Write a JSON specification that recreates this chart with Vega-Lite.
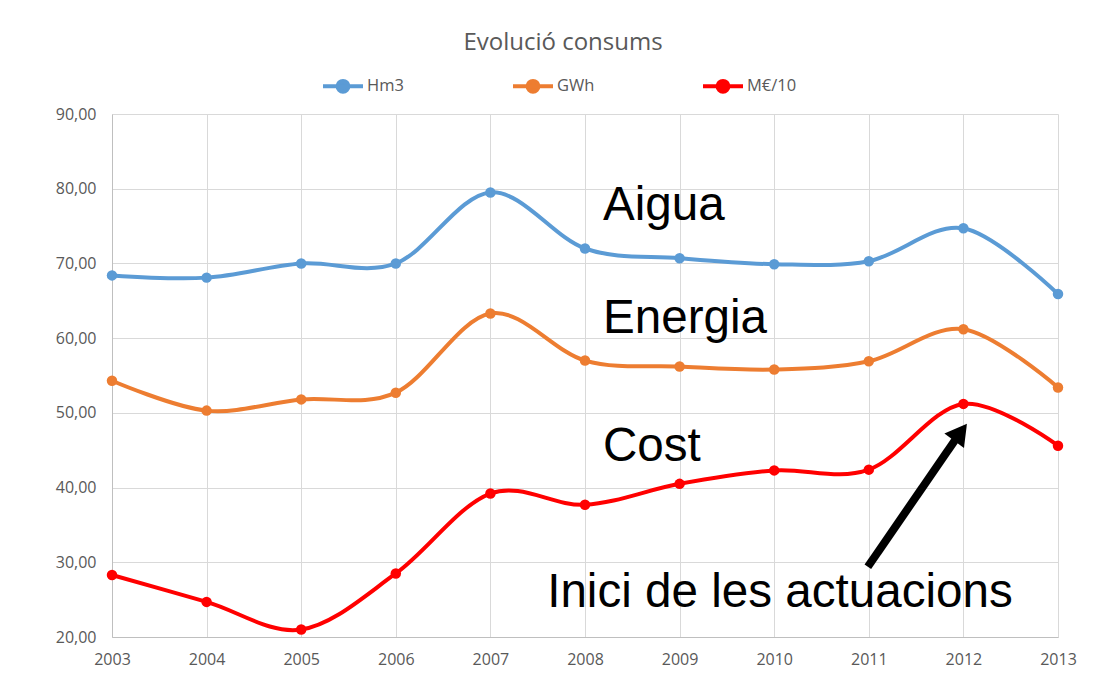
{
  "$schema": "https://vega.github.io/schema/vega-lite/v6.json",
  "width": 946,
  "height": 523,
  "autosize": {"type": "none"},
  "padding": {"left": 112, "top": 114, "right": 38, "bottom": 52},
  "background": "white",
  "title": {
    "text": "Evolució consums",
    "font": "Open Sans",
    "fontSize": 24,
    "fontWeight": "normal",
    "color": "#595959",
    "anchor": "middle",
    "dx": -22,
    "offset": 9
  },
  "config": {
    "view": {"stroke": null},
    "font": "Open Sans"
  },
  "datasets": {
    "series": [
      {"any": 2003, "serie": "Hm3", "valor": 68.4},
      {"any": 2004, "serie": "Hm3", "valor": 68.1},
      {"any": 2005, "serie": "Hm3", "valor": 70.0},
      {"any": 2006, "serie": "Hm3", "valor": 70.0},
      {"any": 2007, "serie": "Hm3", "valor": 79.5},
      {"any": 2008, "serie": "Hm3", "valor": 72.0},
      {"any": 2009, "serie": "Hm3", "valor": 70.7},
      {"any": 2010, "serie": "Hm3", "valor": 69.9},
      {"any": 2011, "serie": "Hm3", "valor": 70.3},
      {"any": 2012, "serie": "Hm3", "valor": 74.7},
      {"any": 2013, "serie": "Hm3", "valor": 65.9},
      {"any": 2003, "serie": "GWh", "valor": 54.3},
      {"any": 2004, "serie": "GWh", "valor": 50.3},
      {"any": 2005, "serie": "GWh", "valor": 51.8},
      {"any": 2006, "serie": "GWh", "valor": 52.7},
      {"any": 2007, "serie": "GWh", "valor": 63.3},
      {"any": 2008, "serie": "GWh", "valor": 57.0},
      {"any": 2009, "serie": "GWh", "valor": 56.2},
      {"any": 2010, "serie": "GWh", "valor": 55.8},
      {"any": 2011, "serie": "GWh", "valor": 56.9},
      {"any": 2012, "serie": "GWh", "valor": 61.2},
      {"any": 2013, "serie": "GWh", "valor": 53.4},
      {"any": 2003, "serie": "M€/10", "valor": 28.3},
      {"any": 2004, "serie": "M€/10", "valor": 24.7},
      {"any": 2005, "serie": "M€/10", "valor": 21.0},
      {"any": 2006, "serie": "M€/10", "valor": 28.5},
      {"any": 2007, "serie": "M€/10", "valor": 39.2},
      {"any": 2008, "serie": "M€/10", "valor": 37.7},
      {"any": 2009, "serie": "M€/10", "valor": 40.5},
      {"any": 2010, "serie": "M€/10", "valor": 42.3},
      {"any": 2011, "serie": "M€/10", "valor": 42.4},
      {"any": 2012, "serie": "M€/10", "valor": 51.2},
      {"any": 2013, "serie": "M€/10", "valor": 45.6}
    ],
    "etiquetes": [
      {"any": 2008.19, "valor": 75.82, "text": "Aigua"},
      {"any": 2008.19, "valor": 60.69, "text": "Energia"},
      {"any": 2008.19, "valor": 43.56, "text": "Cost"},
      {"any": 2007.6, "valor": 24.02, "text": "Inici de les actuacions"}
    ],
    "fletxa": [
      {"any": 2010.99, "valor": 29.41, "any2": 2011.92, "valor2": 46.5}
    ],
    "punta": [
      {"any": 2011.97, "valor": 47.4}
    ]
  },
  "layer": [
    {
      "data": {"name": "series"},
      "mark": {
        "type": "line",
        "interpolate": "cardinal",
        "strokeWidth": 4,
        "point": {"filled": true, "size": 110}
      },
      "encoding": {
        "x": {
          "field": "any",
          "type": "quantitative",
          "scale": {"domain": [2003, 2013], "nice": false, "zero": false},
          "axis": {
            "title": null,
            "values": [2003, 2004, 2005, 2006, 2007, 2008, 2009, 2010, 2011, 2012, 2013],
            "format": "d",
            "grid": true,
            "gridColor": "#d9d9d9",
            "domainColor": "#bfbfbf",
            "ticks": false,
            "labelFlush": false,
            "labelFont": "Open Sans",
            "labelFontSize": 16,
            "labelColor": "#595959",
            "labelPadding": 14
          }
        },
        "y": {
          "field": "valor",
          "type": "quantitative",
          "scale": {"domain": [20, 90], "nice": false, "zero": false},
          "axis": {
            "title": null,
            "values": [20, 30, 40, 50, 60, 70, 80, 90],
            "labelExpr": "replace(format(datum.value, '.2f'), '.', ',')",
            "grid": true,
            "gridColor": "#d9d9d9",
            "domainColor": "#bfbfbf",
            "ticks": false,
            "labelFont": "Open Sans",
            "labelFontSize": 16,
            "labelColor": "#595959",
            "labelPadding": 16
          }
        },
        "color": {
          "field": "serie",
          "type": "nominal",
          "scale": {
            "domain": ["Hm3", "GWh", "M€/10"],
            "range": ["#5B9BD5", "#ED7D31", "#FF0000"]
          },
          "legend": {
            "title": null,
            "orient": "none",
            "direction": "horizontal",
            "columns": 3,
            "gridAlign": "all",
            "legendX": 209,
            "legendY": -50,
            "symbolType": "M-1,0L1,0M0.27,0A0.27,0.27,0,1,1,-0.27,0A0.27,0.27,0,1,1,0.27,0Z",
            "symbolSize": 1600,
            "symbolStrokeWidth": 4,
            "labelOffset": 2,
            "columnPadding": 88,
            "labelFont": "Open Sans",
            "labelFontSize": 16.5,
            "labelColor": "#595959",
            "encode": {
              "symbols": {
                "update": {
                  "fill": {"scale": "color", "field": "value"},
                  "stroke": {"scale": "color", "field": "value"},
                  "opacity": {"value": 1}
                }
              }
            }
          }
        }
      }
    },
    {
      "data": {"name": "etiquetes"},
      "mark": {
        "type": "text",
        "align": "left",
        "baseline": "alphabetic",
        "font": "Liberation Sans",
        "fontSize": 47.6,
        "color": "black"
      },
      "encoding": {
        "x": {"field": "any", "type": "quantitative"},
        "y": {"field": "valor", "type": "quantitative"},
        "text": {"field": "text"}
      }
    },
    {
      "data": {"name": "fletxa"},
      "mark": {"type": "rule", "strokeWidth": 8, "color": "black", "strokeCap": "butt"},
      "encoding": {
        "x": {"field": "any", "type": "quantitative"},
        "y": {"field": "valor", "type": "quantitative"},
        "x2": {"field": "any2"},
        "y2": {"field": "valor2"}
      }
    },
    {
      "data": {"name": "punta"},
      "mark": {
        "type": "point",
        "shape": "triangle-up",
        "filled": true,
        "size": 600,
        "angle": 36.9,
        "color": "black",
        "opacity": 1
      },
      "encoding": {
        "x": {"field": "any", "type": "quantitative"},
        "y": {"field": "valor", "type": "quantitative"}
      }
    }
  ]
}
